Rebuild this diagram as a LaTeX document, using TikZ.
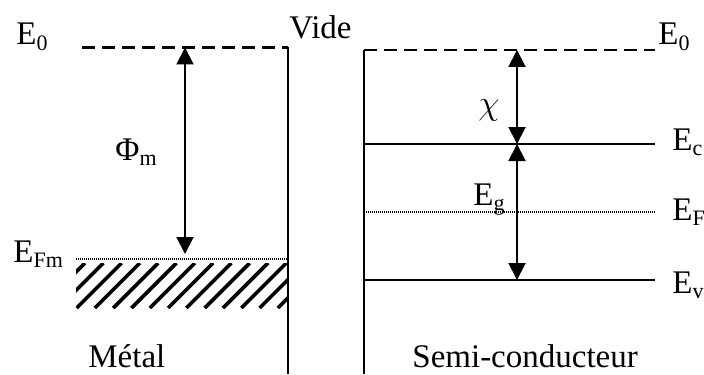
\documentclass[tikz,border=0pt]{standalone}
\usepackage{fontspec}
\setmainfont{Liberation Serif}
\usetikzlibrary{arrows.meta}
\newcommand\lsub[1]{\raisebox{-0.35ex}{\fontsize{11}{11}\selectfont #1}}
\begin{document}
\begin{tikzpicture}[x=0.5pt,y=-0.5pt,
  font=\fontsize{16.5}{20}\selectfont,
  lbl/.style={inner sep=0pt, anchor=base west},
  lvl/.style={line width=1pt},
  dashlvl/.style={line width=1.3pt, dash pattern=on 6.5pt off 3.5pt},
  dotlvl/.style={line width=0.7pt, dash pattern=on 0.5pt off 0.5pt},
  dimarrow/.style={line width=1pt, {Triangle[width=8.5pt,length=8.5pt]}-{Triangle[width=8.5pt,length=8.5pt]}},
  hatchline/.style={line width=1.8pt}]
\useasboundingbox (0,0) rectangle (704,374);
% ---- metal ----
\coordinate (m0a) at (82,47.5);
\coordinate (m0b) at (288,47.5);
\coordinate (mbot) at (288,374);
\coordinate (mfa) at (76,259);
\coordinate (mfb) at (288,259);
\coordinate (pa) at (185,47.5);
\coordinate (pb) at (185,254);
\draw[dashlvl] (m0a) -- (m0b);
\draw[lvl] (m0b) -- (mbot);
\draw[dotlvl] (mfa) -- (mfb);
\draw[dimarrow] (pb) -- (pa);
\begin{scope}
  \clip (76,263) rectangle (288,308);
  \foreach \x in {40,58.3,...,300} \draw[hatchline] (\x,308) -- ++(45,-45);
\end{scope}
\node[lbl] (e0l) at (16,45) {E\lsub{0}};
\node[lbl] (vide) at (289,39) {Vide};
\node[lbl] (phim) at (115,160) {Φ\lsub{m}};
\node[lbl] (efm) at (13,262) {E\lsub{Fm}};
\node[lbl] (metal) at (88,367) {Métal};
% ---- semiconductor ----
\coordinate (s0a) at (364,50);
\coordinate (s0b) at (655,50);
\coordinate (sbot) at (364,374);
\coordinate (ca) at (364,144);
\coordinate (cb) at (655,144);
\coordinate (fa) at (364,212);
\coordinate (fb) at (655,212);
\coordinate (va) at (364,280);
\coordinate (vb) at (655,280);
\coordinate (ar0) at (517,50);
\coordinate (arc) at (517,144);
\coordinate (arv) at (517,280);
\draw[lvl] (sbot) -- (s0a);
\draw[dashlvl] (s0a) -- (s0b);
\draw[lvl] (ca) -- (cb);
\draw[dotlvl] (fa) -- (fb);
\draw[lvl] (va) -- (vb);
\draw[dimarrow] (ar0) -- (arc);
\draw[dimarrow] (arc) -- (arv);
\node[lbl] (e0r) at (658,45) {E\lsub{0}};
\node[lbl] (ec) at (672,150) {E\lsub{c}};
\node[lbl] (ef) at (672,220) {E\lsub{F}};
\node[lbl] (ev) at (672,293) {E\lsub{v}};
\node[inner sep=0pt] (chi) at (489,110) {$\chi$};
\node[lbl] (eg) at (473,205) {E\lsub{g}};
\node[lbl] (sc) at (412,367) {Semi-conducteur};
\end{tikzpicture}
\end{document}
